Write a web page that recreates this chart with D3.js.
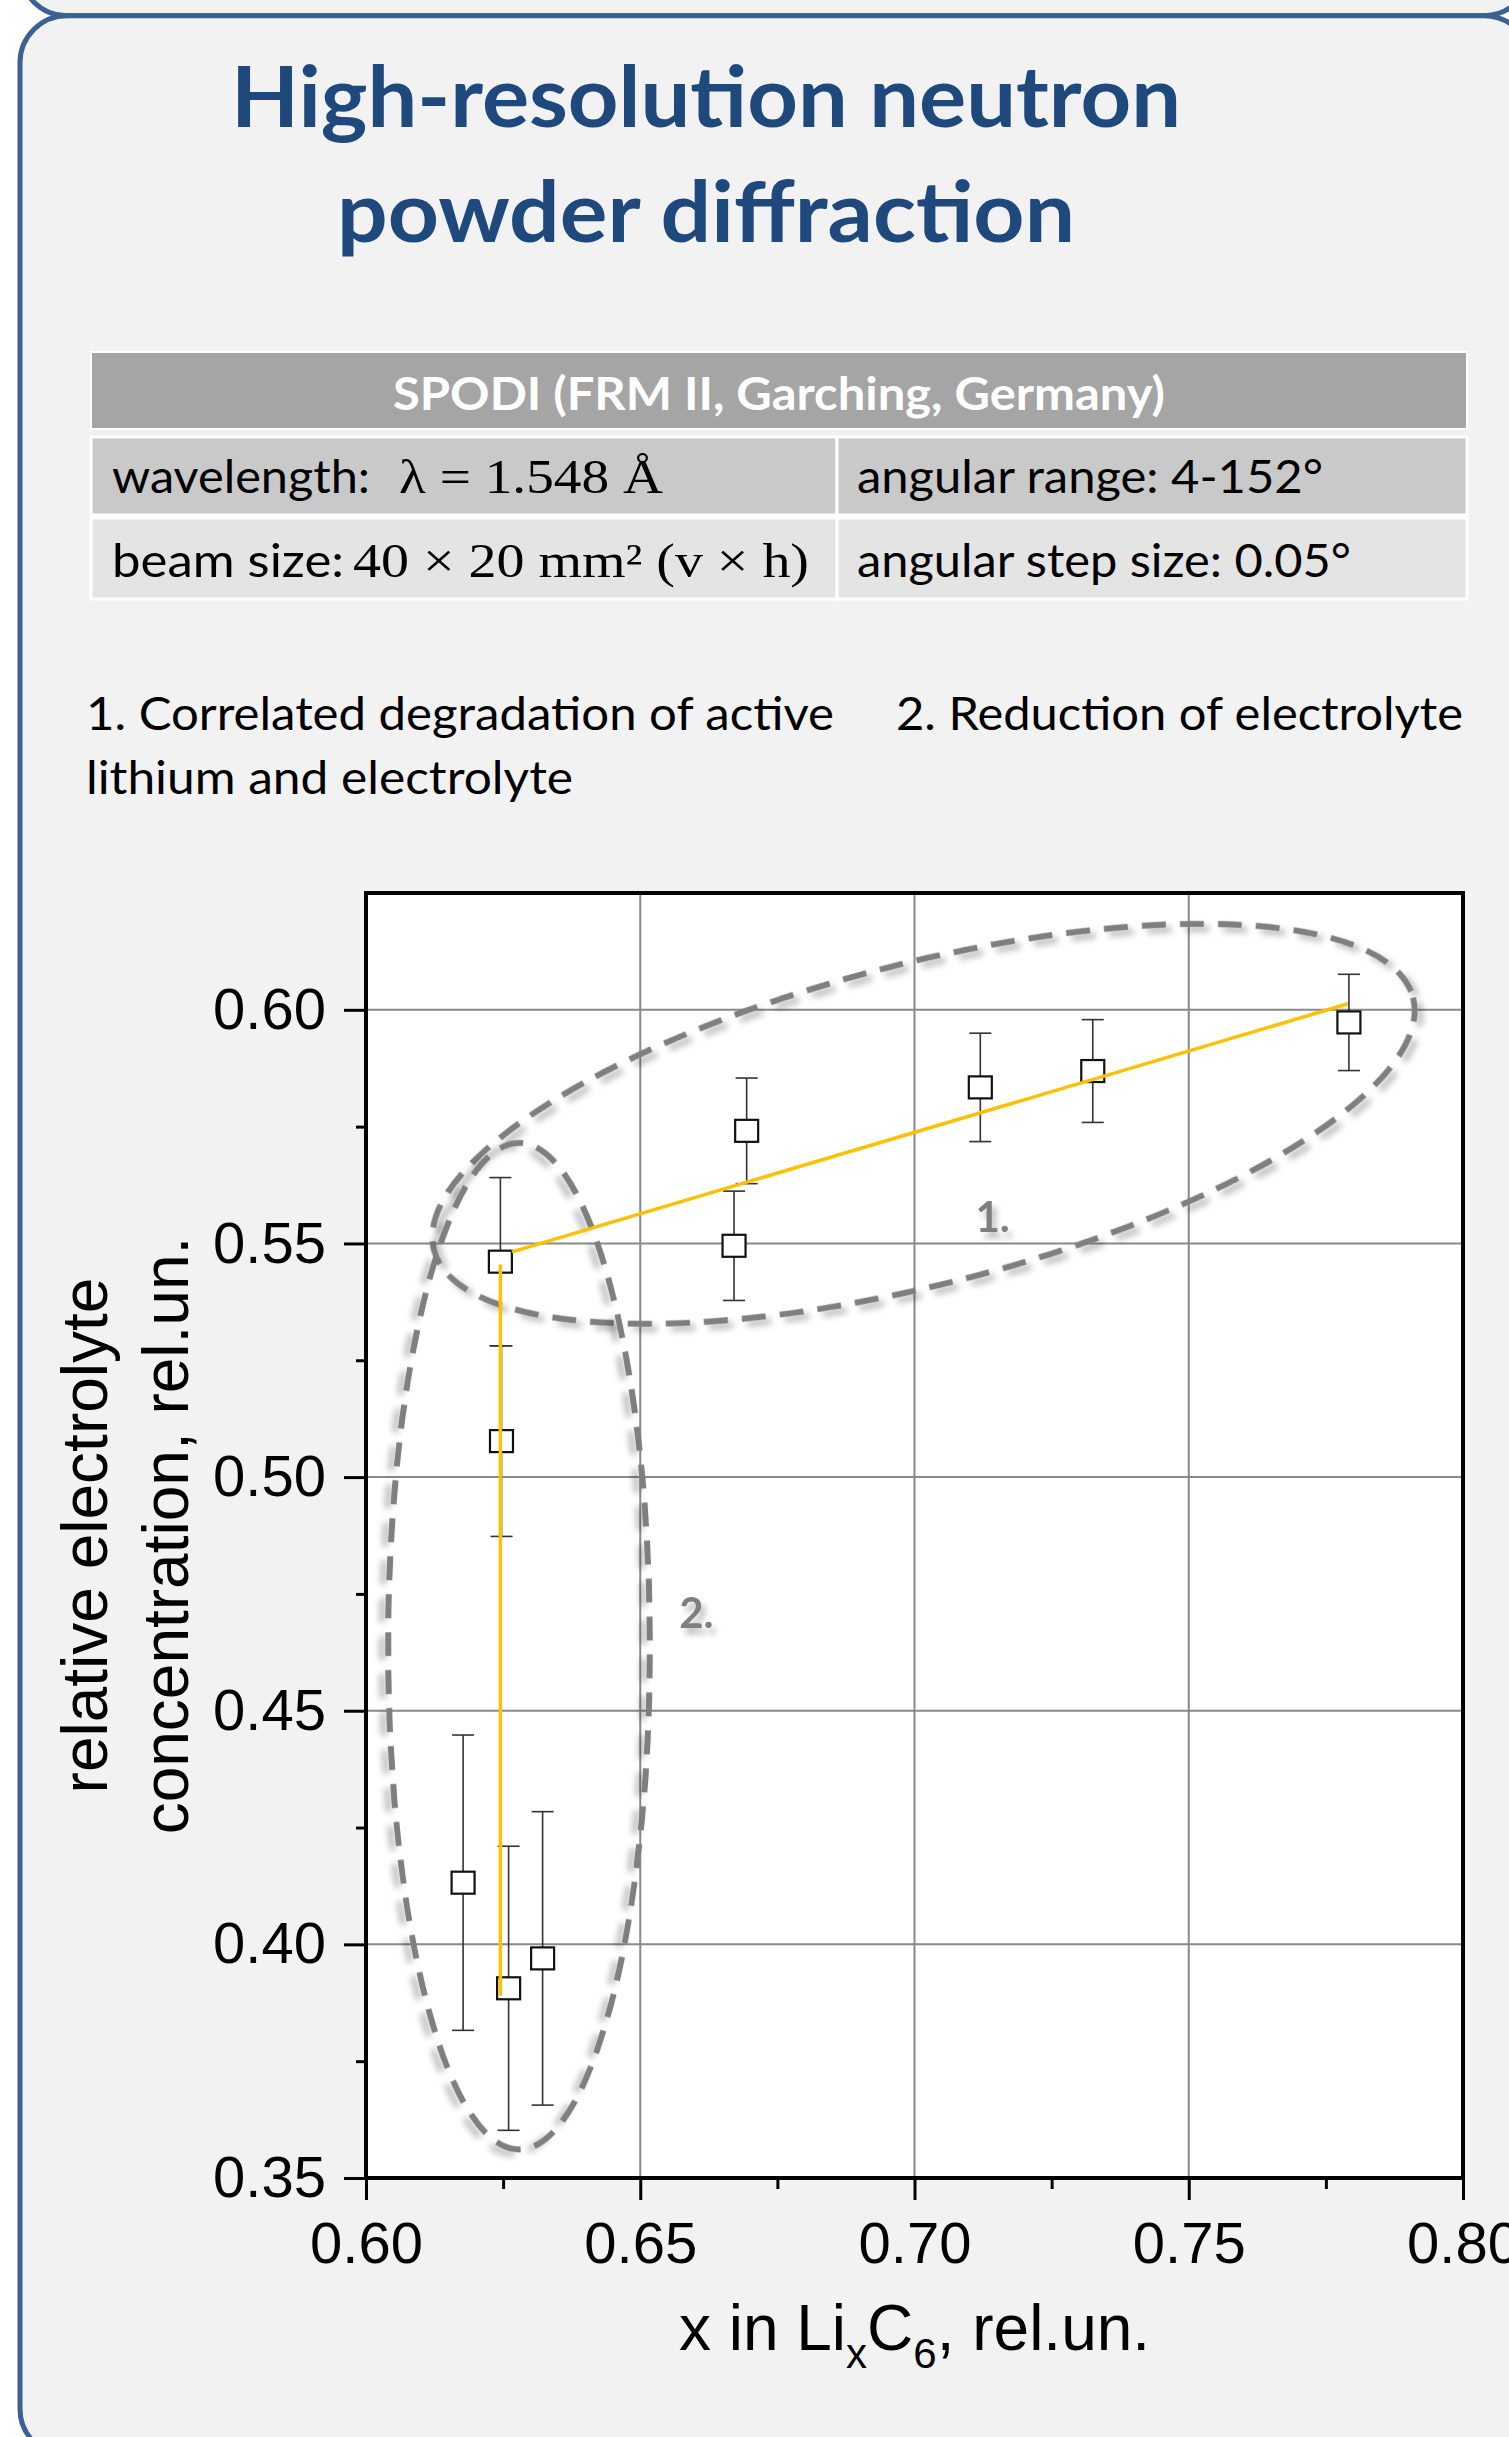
<!DOCTYPE html>
<html>
<head>
<meta charset="utf-8">
<script src="https://cdn.jsdelivr.net/npm/d3@7"></script>
<style>
  body { margin: 0; background: #ffffff; }
  svg { display: block; }
</style>
</head>
<body>
<script>
// ---- data ----
var titleLines = ["High-resolution neutron", "powder diffraction"];
var tableHead = "SPODI (FRM II, Garching, Germany)";
var tableRows = [
    ["wavelength:", "λ = 1.548 Å", "angular range: 4-152°"],
    ["beam size:", "40 × 20 mm² (v × h)", "angular step size: 0.05°"]
];
var headings = ["1. Correlated degradation of active", "lithium and electrolyte", "2. Reduction of electrolyte"];

var xTicks = [0.60, 0.65, 0.70, 0.75, 0.80];
var xMinor = [0.625, 0.675, 0.725, 0.775];
var yTicks = [0.35, 0.40, 0.45, 0.50, 0.55, 0.60];
var yMinor = [0.375, 0.425, 0.475, 0.525, 0.575];

// x in LixC6 and relative electrolyte concentration, with error
var liX     = [0.6245, 0.6694, 0.6671, 0.7120, 0.7325, 0.7792, 0.6247, 0.6177, 0.6260, 0.6322];
var conc    = [0.5461, 0.5741, 0.5495, 0.5834, 0.5869, 0.5973, 0.5077, 0.4132, 0.3906, 0.3970];
var concErr = [0.0180, 0.0113, 0.0117, 0.0116, 0.0110, 0.0103, 0.0204, 0.0316, 0.0304, 0.0314];

// orange guide lines
var guideVertX = [0.6245, 0.6245], guideVertY = [0.3890, 0.5455];
var guideSlopeX = [0.6266, 0.7790], guideSlopeY = [0.5482, 0.6013];

// dashed groups: ends of the long axis, minor/major ratio, label place
var groupNames = ["1.", "2."];
var groupTips = [[[0.6124, 0.5486], [0.7909, 0.6026]], [[0.6279, 0.5715], [0.6279, 0.3561]]];
var groupRatio = [0.317, 0.26];
var groupLabelAt = [[0.7111, 0.5524], [0.6571, 0.4678]];

// ---- page ----
var W = 1509, H = 2437;
var svg = d3.select("body").append("svg").attr("width", W).attr("height", H);

var defs = svg.append("defs");
defs.append("filter").attr("id", "soft")
    .attr("x", "-20%").attr("y", "-20%").attr("width", "140%").attr("height", "140%")
    .append("feDropShadow")
    .attr("dx", 4).attr("dy", 6).attr("stdDeviation", 3)
    .attr("flood-color", "#000").attr("flood-opacity", 0.28);

// poster panels (the one above ends at the top edge)
svg.append("rect").attr("x", 20).attr("y", -520).attr("width", 1511).attr("height", 535.7)
    .attr("rx", 47).attr("fill", "#f2f2f2").attr("stroke", "#3a6191").attr("stroke-width", 5);
svg.append("rect").attr("x", 20).attr("y", 15.7).attr("width", 1511).attr("height", 2440)
    .attr("rx", 47).attr("fill", "#f2f2f2").attr("stroke", "#3a6191").attr("stroke-width", 5);

var sans = "Lato, 'Open Sans', sans-serif";
var arial = "'Liberation Sans', Arial, sans-serif";

// title
var titleBase = [127, 242], titleWidth = [950, 738];
titleLines.forEach(function (t, i) {
    svg.append("text").attr("x", 706).attr("y", titleBase[i])
        .attr("text-anchor", "middle")
        .attr("font-family", sans).attr("font-weight", "bold").attr("font-size", 84)
        .attr("fill", "#1f497d")
        .attr("textLength", titleWidth[i]).attr("lengthAdjust", "spacingAndGlyphs")
        .text(t);
});

// table
var tLeft = 91, tRight = 1467, tMid = 837;
var rowTop = [437, 518], rowBot = [515, 599], rowFill = ["#c9c9c9", "#e4e4e4"];
svg.append("rect").attr("x", tLeft).attr("y", 352).attr("width", tRight - tLeft).attr("height", 77)
    .attr("fill", "#a5a5a5").attr("stroke", "#ffffff").attr("stroke-width", 2);
svg.append("text").attr("x", (tLeft + tRight) / 2).attr("y", 410)
    .attr("text-anchor", "middle").attr("font-family", sans).attr("font-weight", "bold")
    .attr("font-size", 46).attr("fill", "#ffffff")
    .attr("textLength", 772).attr("lengthAdjust", "spacingAndGlyphs")
    .text(tableHead);

var cellLayout = [
    {base: 493, a: [112, 258], b: [399, 264], c: [857, 466]},
    {base: 577, a: [112, 232], b: [353, 456], c: [857, 494]}
];
tableRows.forEach(function (r, i) {
    [[tLeft, tMid], [tMid, tRight]].forEach(function (c) {
        svg.append("rect").attr("x", c[0]).attr("y", rowTop[i])
            .attr("width", c[1] - c[0]).attr("height", rowBot[i] - rowTop[i])
            .attr("fill", rowFill[i]).attr("stroke", "#ffffff").attr("stroke-width", 3);
    });
    var L = cellLayout[i];
    svg.append("text").attr("x", L.a[0]).attr("y", L.base)
        .attr("font-family", sans).attr("font-size", 46).attr("fill", "#000")
        .attr("textLength", L.a[1]).attr("lengthAdjust", "spacingAndGlyphs").text(r[0]);
    svg.append("text").attr("x", L.b[0]).attr("y", L.base)
        .attr("font-family", "'Liberation Serif', 'DejaVu Serif', serif").attr("font-size", 48).attr("fill", "#000")
        .attr("textLength", L.b[1]).attr("lengthAdjust", "spacingAndGlyphs").text(r[1]);
    svg.append("text").attr("x", L.c[0]).attr("y", L.base)
        .attr("font-family", sans).attr("font-size", 46).attr("fill", "#000")
        .attr("textLength", L.c[1]).attr("lengthAdjust", "spacingAndGlyphs").text(r[2]);
});

// headings above the chart
var headPos = [[86, 730, 748], [86, 794, 487], [896, 730, 567]];
headings.forEach(function (t, i) {
    svg.append("text").attr("x", headPos[i][0]).attr("y", headPos[i][1])
        .attr("font-family", sans).attr("font-size", 46).attr("fill", "#000")
        .attr("textLength", headPos[i][2]).attr("lengthAdjust", "spacingAndGlyphs")
        .text(t);
});

// ---- chart ----
var x = d3.scaleLinear().domain([0.60, 0.80]).range([366, 1463]);
var y = d3.scaleLinear().domain([0.35, 0.625]).range([2178, 893]);

var plot = svg.append("g");
plot.append("rect").attr("x", x(0.60)).attr("y", y(0.625))
    .attr("width", x(0.80) - x(0.60)).attr("height", y(0.35) - y(0.625))
    .attr("fill", "#ffffff");

// grid
plot.selectAll(".gx").data(xTicks.slice(1, -1)).enter().append("line")
    .attr("x1", x).attr("x2", x).attr("y1", y(0.35)).attr("y2", y(0.625))
    .attr("stroke", "#898989").attr("stroke-width", 2);
plot.selectAll(".gy").data(yTicks.slice(1)).enter().append("line")
    .attr("x1", x(0.60)).attr("x2", x(0.80)).attr("y1", y).attr("y2", y)
    .attr("stroke", "#898989").attr("stroke-width", 2);

// dashed groups
groupTips.forEach(function (tips, i) {
    var p1 = [x(tips[0][0]), y(tips[0][1])], p2 = [x(tips[1][0]), y(tips[1][1])];
    var cx = (p1[0] + p2[0]) / 2, cy = (p1[1] + p2[1]) / 2;
    var a = Math.hypot(p2[0] - p1[0], p2[1] - p1[1]) / 2;
    var ang = Math.atan2(p2[1] - p1[1], p2[0] - p1[0]) * 180 / Math.PI;
    plot.append("ellipse")
        .attr("transform", "translate(" + cx + "," + cy + ") rotate(" + ang + ")")
        .attr("rx", a).attr("ry", a * groupRatio[i])
        .attr("fill", "none").attr("stroke", "#7f7f7f").attr("stroke-width", 6)
        .attr("stroke-dasharray", "24,14")
        .attr("filter", "url(#soft)");
    plot.append("text").attr("x", x(groupLabelAt[i][0])).attr("y", y(groupLabelAt[i][1]))
        .attr("font-family", sans).attr("font-weight", "bold").attr("font-size", 42)
        .attr("fill", "#7f7f7f").attr("filter", "url(#soft)")
        .text(groupNames[i]);
});

// error bars
var pts = liX.map(function (v, i) { return {x: v, y: conc[i], e: concErr[i]}; });
var bars = plot.selectAll(".err").data(pts).enter().append("g").attr("stroke", "#333").attr("stroke-width", 1.6);
bars.append("line").attr("x1", function (d) { return x(d.x); }).attr("x2", function (d) { return x(d.x); })
    .attr("y1", function (d) { return y(d.y + d.e); }).attr("y2", function (d) { return y(d.y - d.e); });
bars.append("line").attr("x1", function (d) { return x(d.x) - 11; }).attr("x2", function (d) { return x(d.x) + 11; })
    .attr("y1", function (d) { return y(d.y + d.e); }).attr("y2", function (d) { return y(d.y + d.e); });
bars.append("line").attr("x1", function (d) { return x(d.x) - 11; }).attr("x2", function (d) { return x(d.x) + 11; })
    .attr("y1", function (d) { return y(d.y - d.e); }).attr("y2", function (d) { return y(d.y - d.e); });

// open squares
plot.selectAll(".pt").data(pts).enter().append("rect")
    .attr("x", function (d) { return x(d.x) - 11.5; }).attr("y", function (d) { return y(d.y) - 11; })
    .attr("width", 23).attr("height", 22)
    .attr("fill", "#ffffff").attr("stroke", "#111").attr("stroke-width", 2.2);

// orange guides on top
var line = d3.line().x(function (d) { return x(d[0]); }).y(function (d) { return y(d[1]); });
[[guideVertX, guideVertY], [guideSlopeX, guideSlopeY]].forEach(function (g) {
    plot.append("path").datum(g[0].map(function (v, i) { return [v, g[1][i]]; }))
        .attr("d", line).attr("fill", "none").attr("stroke", "#ffc000").attr("stroke-width", 3.5);
});

// axes
var fmt = d3.format(".2f");
var xAxis = svg.append("g").attr("transform", "translate(0," + y(0.35) + ")")
    .call(d3.axisBottom(x).tickValues(xTicks).tickSize(22).tickSizeOuter(0).tickPadding(22).tickFormat(fmt));
var xAxisMinor = svg.append("g").attr("transform", "translate(0," + y(0.35) + ")")
    .call(d3.axisBottom(x).tickValues(xMinor).tickSize(11).tickSizeOuter(0).tickFormat(""));
var yAxis = svg.append("g").attr("transform", "translate(" + x(0.60) + ",0)")
    .call(d3.axisLeft(y).tickValues(yTicks).tickSize(22).tickSizeOuter(0).tickPadding(18).tickFormat(fmt));
var yAxisMinor = svg.append("g").attr("transform", "translate(" + x(0.60) + ",0)")
    .call(d3.axisLeft(y).tickValues(yMinor).tickSize(10).tickSizeOuter(0).tickFormat(""));

[xAxis, xAxisMinor, yAxis, yAxisMinor].forEach(function (ax) {
    ax.select(".domain").remove();
    ax.selectAll(".tick line").attr("stroke", "#000").attr("stroke-width", 3);
    ax.selectAll("text").attr("font-family", arial).attr("font-size", 58).attr("fill", "#000");
});

// frame
svg.append("rect").attr("x", x(0.60)).attr("y", y(0.625))
    .attr("width", x(0.80) - x(0.60)).attr("height", y(0.35) - y(0.625))
    .attr("fill", "none").attr("stroke", "#000").attr("stroke-width", 4);

// axis titles
var xt = svg.append("text").attr("x", (x(0.60) + x(0.80)) / 2).attr("y", 2350)
    .attr("text-anchor", "middle").attr("font-family", arial).attr("font-size", 64).attr("fill", "#000");
xt.append("tspan").text("x in Li");
xt.append("tspan").attr("font-size", 42).attr("dy", 18).text("x");
xt.append("tspan").attr("dy", -18).text("C");
xt.append("tspan").attr("font-size", 42).attr("dy", 18).text("6");
xt.append("tspan").attr("dy", -18).text(", rel.un.");

var yMid = (y(0.35) + y(0.625)) / 2;
[["relative electrolyte", 107], ["concentration, rel.un.", 188]].forEach(function (t) {
    svg.append("text").attr("transform", "translate(" + t[1] + "," + yMid + ") rotate(-90)")
        .attr("text-anchor", "middle").attr("font-family", arial).attr("font-size", 64).attr("fill", "#000")
        .text(t[0]);
});
</script>
</body>
</html>
